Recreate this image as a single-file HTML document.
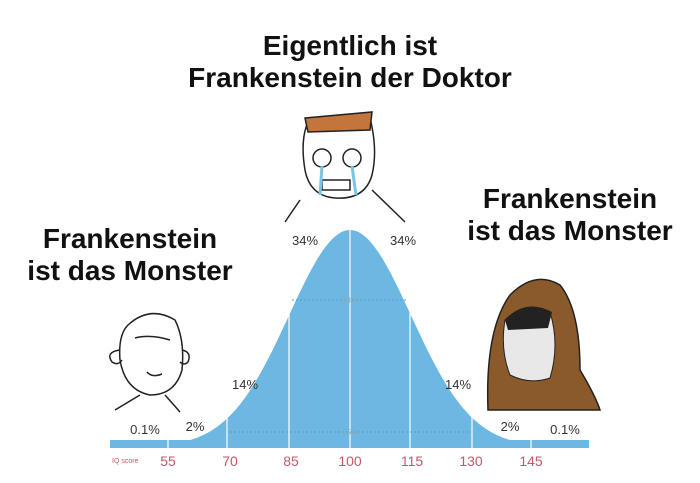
<!DOCTYPE html>
<html><head><meta charset="utf-8"><style>
body{margin:0;width:700px;height:483px;background:#fff;overflow:hidden;font-family:"Liberation Sans",sans-serif;}
.t{position:absolute;font-weight:bold;color:#111;text-align:center;line-height:32px;}
</style></head><body>
<div class="t" style="left:150px;top:30px;width:400px;font-size:28px;">Eigentlich ist<br>Frankenstein der Doktor</div>
<div class="t" style="left:5px;top:223px;width:250px;font-size:28px;">Frankenstein<br>ist das Monster</div>
<div class="t" style="left:445px;top:183px;width:250px;font-size:28px;">Frankenstein<br>ist das Monster</div>
<svg width="700" height="483" style="position:absolute;left:0;top:0">
<rect x="110" y="440" width="479" height="8" fill="#6db8e2"/>
<path id="c" fill="#6db8e2"/>
<g stroke="#fff" stroke-width="1.5" opacity="0.8">
<line x1="168" y1="380" x2="168" y2="448"/><line x1="227" y1="380" x2="227" y2="448"/>
<line x1="289" y1="280" x2="289" y2="448"/><line x1="350" y1="228" x2="350" y2="448"/>
<line x1="410" y1="280" x2="410" y2="448"/><line x1="472" y1="380" x2="472" y2="448"/>
<line x1="531" y1="380" x2="531" y2="448"/></g>
<g stroke="#5a9cc4" stroke-dasharray="2,2" stroke-width="1"><line x1="292" y1="300" x2="408" y2="300"/><line x1="230" y1="432" x2="470" y2="432"/></g>
<g font-size="8" fill="#8ab" text-anchor="middle"><text x="350" y="303">68%</text><text x="350" y="435">95%</text></g>
<g font-size="13" fill="#333" text-anchor="middle">
<text x="305" y="245">34%</text><text x="403" y="245">34%</text>
<text x="245" y="389">14%</text><text x="458" y="389">14%</text>
<text x="145" y="434">0.1%</text><text x="195" y="431">2%</text>
<text x="510" y="431">2%</text><text x="565" y="434">0.1%</text></g>
<text x="112" y="463" font-size="7" fill="#c05a6a">IQ score</text>
<g font-size="14" fill="#c05a6a" text-anchor="middle">
<text x="168" y="466">55</text><text x="230" y="466">70</text><text x="291" y="466">85</text><text x="350" y="466">100</text><text x="412" y="466">115</text><text x="471" y="466">130</text><text x="531" y="466">145</text></g>
<!-- left face -->
<g fill="none" stroke="#222" stroke-width="1.5">
<path d="M128 325 Q150 305 175 320 Q185 340 182 370 Q175 395 150 395 Q125 390 120 360 Q118 335 128 325Z"/>
<path d="M120 350 Q105 352 112 362 Q118 366 122 360"/><path d="M182 350 Q192 352 188 362 Q184 366 180 362"/>
<path d="M135 338 Q150 334 170 340"/><path d="M147 372 Q152 378 162 374"/><path d="M140 395 L115 410 M165 395 L180 412"/></g>
<!-- center face -->
<g fill="none" stroke="#222" stroke-width="1.5">
<path d="M308 122 L370 118 Q378 150 372 175 Q365 200 335 198 Q310 196 305 170 Q300 140 308 122Z" fill="#fff"/>
<path d="M305 118 L372 112 L370 130 L308 132Z" fill="#c4753c"/>
<circle cx="322" cy="158" r="9"/><circle cx="352" cy="158" r="9"/>
<rect x="322" y="180" width="28" height="10" fill="#fff"/><path d="M300 200 L285 222 M372 190 L405 222"/></g>
<path d="M322 166 L320 195 M352 166 L356 195" stroke="#7cc4e6" stroke-width="3"/>
<!-- hooded -->
<path d="M488 410 Q485 330 510 295 Q535 270 560 285 Q580 310 580 370 Q595 395 600 410Z" fill="#8b5a2b" stroke="#222" stroke-width="1.5"/>
<path d="M505 320 Q525 300 550 312 Q560 345 550 378 Q530 385 510 375 Q500 350 505 320Z" fill="#e8e8e8" stroke="#222"/>
<path d="M505 320 Q525 298 552 312 L548 328 L508 330Z" fill="#222"/>
</svg>
<script>
var d="M110 447";for(var x=110;x<=590;x+=3){var y=447-217*Math.exp(-Math.pow(x-350,2)/(2*61*61));d+=" L"+x+" "+y.toFixed(1);}d+=" L590 447Z";document.getElementById("c").setAttribute("d",d);
</script>
</body></html>
